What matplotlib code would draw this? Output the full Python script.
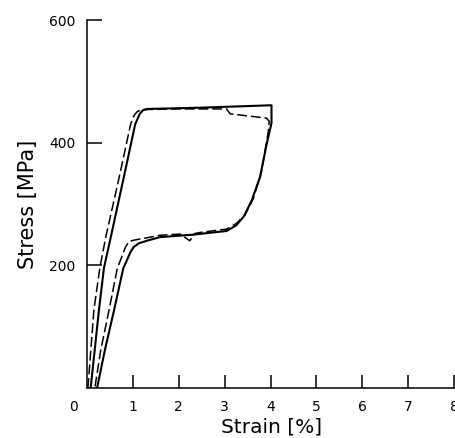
import matplotlib
matplotlib.use("Agg")
import matplotlib.pyplot as plt

# solid loop: loading, upper plateau, unloading, lower plateau, back to zero
solid_strain = [0.08, 0.26, 0.37, 0.53, 0.80, 1.05, 1.15, 1.22, 1.32, 2.46, 4.02,
                4.02, 3.91, 3.77, 3.59, 3.42, 3.25, 3.04, 2.31, 1.59, 1.30, 1.13,
                1.02, 0.95, 0.79, 0.59, 0.39, 0.22]
solid_stress = [0, 127, 196, 250, 343, 430, 447, 453, 455, 457, 461,
                432, 396, 344, 306, 280, 265, 256, 250, 246, 240, 236,
                230, 222, 195, 127, 62, 0]

# dashed loop (with the small dip on the lower plateau)
dash_strain = [0.02, 0.15, 0.28, 0.42, 0.70, 0.95, 1.03, 1.10, 1.20, 2.00, 3.04,
               3.12, 3.91, 3.97, 3.95, 3.80, 3.62, 3.44, 3.25, 3.04, 2.50, 2.35,
               2.24, 2.03, 1.59, 1.24, 1.02, 0.92, 0.84, 0.66, 0.48, 0.30, 0.17]
dash_stress = [0, 127, 196, 250, 343, 430, 445, 451, 454, 455, 455,
               447, 440, 435, 418, 352, 308, 282, 268, 259, 254, 252,
               240, 251, 249, 244, 241, 239, 230, 195, 127, 62, 0]

x_ticks = [1, 2, 3, 4, 5, 6, 7, 8]
y_ticks = [200, 400, 600]

fig = plt.figure(figsize=(4.56, 4.38), dpi=100)
ax = fig.add_axes([87 / 456, 50 / 438, 369 / 456, 368 / 438])

ax.plot(solid_strain, solid_stress, color="black", lw=1.5, solid_joinstyle="round")
ax.plot(dash_strain, dash_stress, color="black", lw=1.1, linestyle=(0, (6.5, 2.5)))

ax.set_xlim(0, 8.04)
ax.set_ylim(0, 600)
ax.set_xticks(x_ticks)
ax.set_yticks(y_ticks)
ax.spines["top"].set_visible(False)
ax.spines["right"].set_visible(False)
for s in ("left", "bottom"):
    ax.spines[s].set_linewidth(1.1)
ax.tick_params(axis="x", direction="in", length=9.5, width=1.1, pad=8.5, labelsize=10)
ax.tick_params(axis="y", direction="in", length=11, width=1.1, pad=8.5, labelsize=10)

ax.annotate("0", xy=(0, 0), xytext=(-10, -8.5), textcoords="offset points",
            ha="center", va="top", fontsize=10, annotation_clip=False)

ax.set_xlabel("Strain [%]", fontsize=14.5, labelpad=3)
ax.set_ylabel("Stress [MPa]", fontsize=15, labelpad=8)

fig.savefig("out.png", dpi=100)
